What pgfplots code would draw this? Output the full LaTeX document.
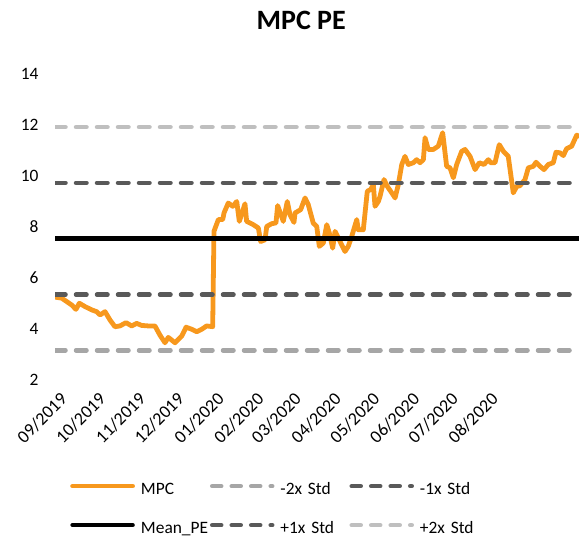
\documentclass[border=0pt]{standalone}
\usepackage{pgfplots}
\pgfplotsset{compat=1.18}
\usepackage{fontspec}
\setmainfont{Carlito}
\definecolor{mpcorange}{RGB}{247,152,29}
\definecolor{gA}{RGB}{166,166,166}
\definecolor{gB}{RGB}{89,89,89}
\definecolor{gC}{RGB}{191,191,191}
\begin{document}
\begin{tikzpicture}
\useasboundingbox (0,0) rectangle (579pt,540pt);
\begin{axis}[
  at={(55pt,160pt)}, anchor=south west,
  scale only axis, width=524pt, height=306pt,
  xmin=0, xmax=407.4, ymin=2, ymax=14,
  axis line style={draw=none},
  major tick length=0pt,
  ytick={2,4,...,14},
  xtick={0,30,61,91,122,153,182,213,243,274,304,335},
  xticklabels={09/2019,10/2019,11/2019,12/2019,01/2020,02/2020,03/2020,04/2020,05/2020,06/2020,07/2020,08/2020},
  tick label style={font=\fontsize{17.4}{20}\selectfont},
  xticklabel style={font=\fontsize{18}{20}\selectfont},
  /pgf/number format/assume math mode=true,
  yticklabel style={xshift=-13pt},
  xticklabel style={rotate=45, anchor=north east, inner sep=0pt, yshift=-11pt, xshift=-5pt},
  title={MPC PE},
  title style={font=\bfseries\fontsize{28}{32}\selectfont, at={(0.47,1)}, anchor=center, yshift=48pt},
  legend columns=3,
  legend style={draw=none, fill=none, at={(0.0286,-0.333)}, anchor=north west,
    font=\fontsize{17.4}{20}\selectfont, inner sep=0pt, row sep=23pt,
    nodes={inner sep=0pt, text width=69pt, text height=12pt, text depth=4pt},
    /tikz/every odd column/.append style={column sep=6pt}},
  legend image code/.code={\draw[#1] (0pt,4pt) -- (60pt,4pt);},
]
\addplot[mpcorange, line width=4.8pt, line join=round, line cap=round] coordinates {
(0,5.25) (5.2,5.21) (13.0,4.94) (16.3,4.77) (18.9,5.01) (23.3,4.88) (28.5,4.75) (32.4,4.68) (35.0,4.55) (38.9,4.68) (42.8,4.35) (46.6,4.09) (50.5,4.12) (55.2,4.25) (59.6,4.12) (63.5,4.22) (67.4,4.14) (72.5,4.12) (77.7,4.12) (81.6,3.76) (85.5,3.46) (88.1,3.67) (93.3,3.46) (98.5,3.72) (101.9,4.07) (106.3,3.99) (110.2,3.89) (114.1,3.99) (117.9,4.12) (122.6,4.09) (123.6,7.83) (127.0,8.29) (130.4,8.29) (131.4,8.55) (134.7,8.94) (138.2,8.81) (141.3,9.0) (143.3,8.22) (147.7,8.91) (149.0,8.22) (154.2,8.09) (158.1,7.96) (159.9,7.43) (163.3,7.50) (164.6,8.02) (168.5,8.13) (171.8,8.16) (173.1,8.84) (177.5,8.22) (180.6,9.0) (182.7,8.48) (185.8,8.18) (186.6,8.55) (191.0,8.68) (194.4,9.14) (196.9,8.88) (200.8,8.15) (203.5,8.02) (205.5,7.24) (208.6,7.37) (211.3,8.09) (213.3,7.76) (215.9,7.17) (217.7,7.83) (220.3,7.57) (222.9,7.30) (225.5,7.04) (228.0,7.24) (230.7,7.63) (234.6,8.29) (235.8,7.89) (239.7,7.89) (242.8,9.40) (245.4,9.47) (247.5,9.66) (248.8,8.81) (251.4,9.0) (252.7,9.20) (255.8,9.86) (258.4,9.59) (261.8,9.34) (264.4,9.14) (266.9,9.66) (269.6,10.45) (272.1,10.77) (274.7,10.45) (278.6,10.52) (281.2,10.64) (283.8,10.52) (286.4,10.64) (287.7,11.50) (290.2,11.04) (294.1,11.04) (298.0,11.17) (301.4,11.70) (304.5,10.38) (307.1,10.32) (309.7,9.93) (312.3,10.45) (316.2,10.97) (318.8,11.04) (322.7,10.77) (326.6,10.25) (329.9,10.52) (333.5,10.45) (336.9,10.64) (338.8,10.52) (342.1,10.52) (345.4,11.23) (348.6,10.97) (352.4,10.77) (356.3,9.34) (359.0,9.59) (361.5,9.62) (365.4,9.86) (368.0,10.32) (371.9,10.38) (374.0,10.54) (377.1,10.38) (380.2,10.25) (383.5,10.45) (387.4,10.52) (389.5,10.93) (392.6,10.91) (395.2,10.80) (397.8,11.07) (401.7,11.17) (405.6,11.60) (407.4,11.56)
};
\addlegendentry{MPC}
\addplot[gA, line width=4.5pt, line cap=round, dash pattern=on 10.5pt off 10.5pt, legend image post style={dash pattern=on 9pt off 10.5pt}] coordinates {(0,3.16) (407.4,3.16)};
\addlegendentry{-2x Std}
\addplot[gB, line width=4.5pt, line cap=round, dash pattern=on 10.5pt off 10.5pt, legend image post style={dash pattern=on 9pt off 10.5pt}] coordinates {(0,5.35) (407.4,5.35)};
\addlegendentry{-1x Std}
\addplot[black, line width=4.5pt, line cap=round] coordinates {(0,7.54) (407.4,7.54)};
\addlegendentry{Mean\_PE}
\addplot[gB, line width=4.5pt, line cap=round, dash pattern=on 10.5pt off 10.5pt, legend image post style={dash pattern=on 9pt off 10.5pt}] coordinates {(0,9.73) (407.4,9.73)};
\addlegendentry{+1x Std}
\addplot[gC, line width=4.5pt, line cap=round, dash pattern=on 10.5pt off 10.5pt, legend image post style={dash pattern=on 9pt off 10.5pt}] coordinates {(0,11.92) (407.4,11.92)};
\addlegendentry{+2x Std}
\end{axis}
\end{tikzpicture}
\end{document}
